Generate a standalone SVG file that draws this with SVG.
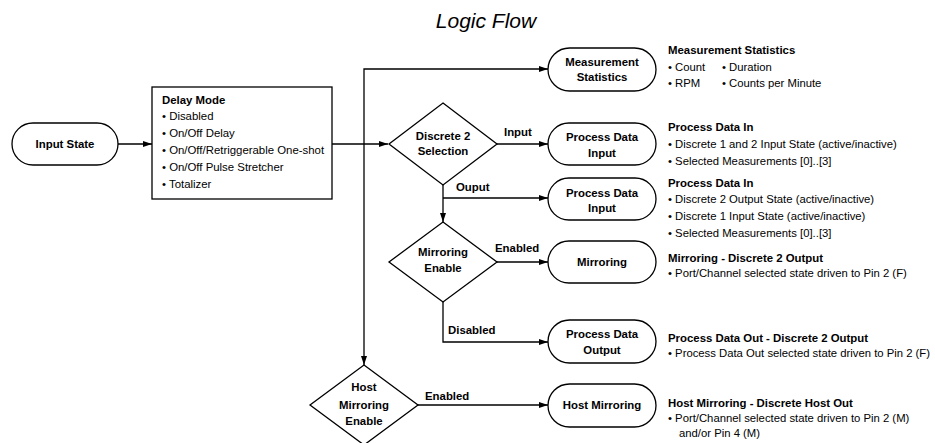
<svg xmlns="http://www.w3.org/2000/svg" width="935" height="443" viewBox="0 0 935 443">
<defs>
<marker id="arr" markerWidth="9" markerHeight="6" refX="9" refY="3" orient="auto" markerUnits="userSpaceOnUse">
<path d="M0,0 L9,3 L0,6 Z" fill="#000"/>
</marker>
<style>
.shape{fill:#fff;stroke:#000;stroke-width:1.3}
.conn{fill:none;stroke:#000;stroke-width:1.3}
.nt{font-family:"Liberation Sans",Arial,sans-serif;font-size:11.4px;font-weight:bold;text-anchor:middle;fill:#000}
.lb{font-family:"Liberation Sans",Arial,sans-serif;font-size:11.4px;font-weight:bold;fill:#000}
.tx{font-family:"Liberation Sans",Arial,sans-serif;font-size:11.4px;fill:#000}
.rt{font-family:"Liberation Sans",Arial,sans-serif;font-size:11.3px;fill:#000}
.rh{font-family:"Liberation Sans",Arial,sans-serif;font-size:11.4px;font-weight:bold;fill:#000}
</style>
</defs>
<rect width="935" height="443" fill="#fff"/>
<text x="486" y="28" font-family="Liberation Sans,Arial,sans-serif" font-size="21" font-style="italic" text-anchor="middle">Logic Flow</text>

<g id="connectors">
<path class="conn" d="M118,144 H152" marker-end="url(#arr)"/>
<path class="conn" d="M332,144 H388" marker-end="url(#arr)"/>
<path class="conn" d="M364,144 V69 H548" marker-end="url(#arr)"/>
<path class="conn" d="M364,144 V365" marker-end="url(#arr)"/>
<path class="conn" d="M497,144 H548" marker-end="url(#arr)"/>
<path class="conn" d="M443,185 V222" marker-end="url(#arr)"/>
<path class="conn" d="M443,198 H548" marker-end="url(#arr)"/>
<path class="conn" d="M497,262 H548" marker-end="url(#arr)"/>
<path class="conn" d="M443,302 V342 H548" marker-end="url(#arr)"/>
<path class="conn" d="M418,405 H548" marker-end="url(#arr)"/>
<text class="lb" x="504" y="136">Input</text>
<text class="lb" x="456" y="191">Ouput</text>
<text class="lb" x="495" y="252">Enabled</text>
<text class="lb" x="448" y="334">Disabled</text>
<text class="lb" x="425" y="400">Enabled</text>
</g>

<g id="input-state">
<rect class="shape" x="12" y="123" width="106" height="42" rx="21" ry="21"/>
<text class="nt" x="65" y="148">Input State</text>
</g>

<g id="delay-mode">
<rect class="shape" x="152" y="87" width="180" height="112"/>
<text class="lb" x="162" y="104">Delay Mode</text>
<text class="tx" x="162" y="120">• Disabled</text>
<text class="tx" x="162" y="137">• On/Off Delay</text>
<text class="tx" x="162" y="154">• On/Off/Retriggerable One-shot</text>
<text class="tx" x="162" y="171">• On/Off Pulse Stretcher</text>
<text class="tx" x="162" y="188">• Totalizer</text>
</g>

<g id="measurement-statistics">
<rect class="shape" x="548" y="48" width="108" height="43" rx="21.5" ry="21.5"/>
<text class="nt" x="602" y="66">Measurement</text>
<text class="nt" x="602" y="81">Statistics</text>
</g>

<g id="discrete2-selection">
<polygon class="shape" points="443,103 497,144 443,185 389,144"/>
<text class="nt" x="443" y="140">Discrete 2</text>
<text class="nt" x="443" y="155">Selection</text>
</g>

<g id="pdi-1">
<rect class="shape" x="548" y="123" width="108" height="42" rx="21" ry="21"/>
<text class="nt" x="602" y="141">Process Data</text>
<text class="nt" x="602" y="157">Input</text>
</g>

<g id="pdi-2">
<rect class="shape" x="548" y="178" width="108" height="42" rx="21" ry="21"/>
<text class="nt" x="602" y="197">Process Data</text>
<text class="nt" x="602" y="212">Input</text>
</g>

<g id="mirroring-enable">
<polygon class="shape" points="443,222 497,262 443,302 389,262"/>
<text class="nt" x="443" y="256">Mirroring</text>
<text class="nt" x="443" y="272">Enable</text>
</g>

<g id="mirroring">
<rect class="shape" x="548" y="241" width="108" height="42" rx="21" ry="21"/>
<text class="nt" x="602" y="266">Mirroring</text>
</g>

<g id="pdo">
<rect class="shape" x="548" y="320" width="108" height="43" rx="21.5" ry="21.5"/>
<text class="nt" x="602" y="338">Process Data</text>
<text class="nt" x="602" y="354">Output</text>
</g>

<g id="host-mirroring-enable">
<polygon class="shape" points="364,365 418,405 364,445 310,405"/>
<text class="nt" x="364" y="391">Host</text>
<text class="nt" x="364" y="409">Mirroring</text>
<text class="nt" x="364" y="425">Enable</text>
</g>

<g id="host-mirroring">
<rect class="shape" x="548" y="384" width="108" height="43" rx="21.5" ry="21.5"/>
<text class="nt" x="602" y="409">Host Mirroring</text>
</g>

<g id="desc-measurement">
<text class="rh" x="668" y="54">Measurement Statistics</text>
<text class="rt" x="668" y="71">• Count</text>
<text class="rt" x="722" y="71">• Duration</text>
<text class="rt" x="668" y="87">• RPM</text>
<text class="rt" x="722" y="87">• Counts per Minute</text>
</g>
<g id="desc-pdi-1">
<text class="rh" x="668" y="131">Process Data In</text>
<text class="rt" x="668" y="148">• Discrete 1 and 2 Input State (active/inactive)</text>
<text class="rt" x="668" y="165">• Selected Measurements [0]..[3]</text>
</g>
<g id="desc-pdi-2">
<text class="rh" x="668" y="187">Process Data In</text>
<text class="rt" x="668" y="203">• Discrete 2 Output State (active/inactive)</text>
<text class="rt" x="668" y="220">• Discrete 1 Input State (active/inactive)</text>
<text class="rt" x="668" y="237">• Selected Measurements [0]..[3]</text>
</g>
<g id="desc-mirroring">
<text class="rh" x="668" y="262">Mirroring - Discrete 2 Output</text>
<text class="rt" x="668" y="277">• Port/Channel selected state driven to Pin 2 (F)</text>
</g>
<g id="desc-pdo">
<text class="rh" x="668" y="342">Process Data Out - Discrete 2 Output</text>
<text class="rt" x="668" y="357">• Process Data Out selected state driven to Pin 2 (F)</text>
</g>
<g id="desc-host">
<text class="rh" x="668" y="407">Host Mirroring - Discrete Host Out</text>
<text class="rt" x="668" y="422">• Port/Channel selected state driven to Pin 2 (M)</text>
<text class="rt" x="679" y="437">and/or Pin 4 (M)</text>
</g>
</svg>
